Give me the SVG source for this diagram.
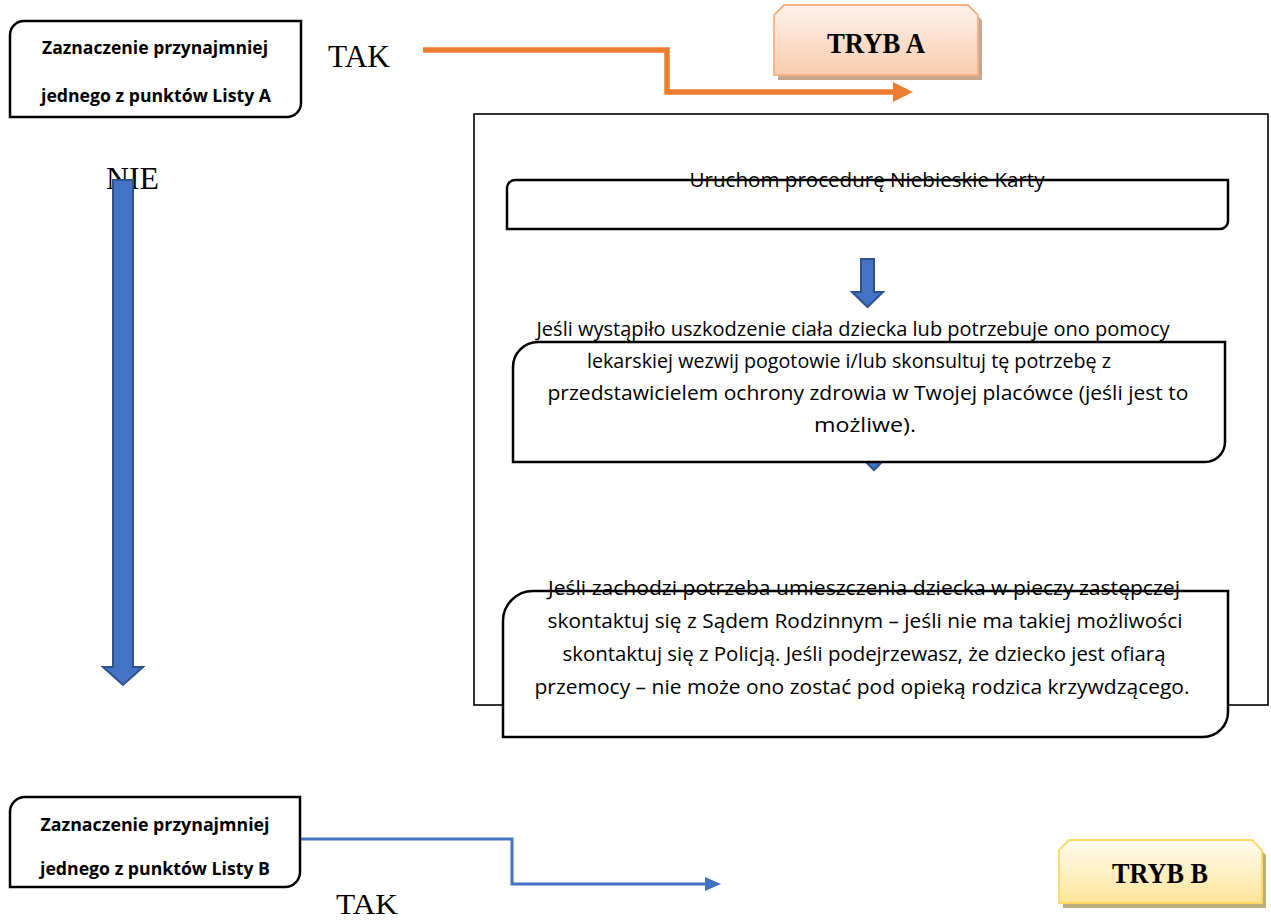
<svg xmlns="http://www.w3.org/2000/svg" width="1271" height="921" viewBox="0 0 1271 921">
<defs>
<linearGradient id="gA" x1="0" y1="0" x2="0" y2="1">
<stop offset="0" stop-color="#FDF1EA"/>
<stop offset="1" stop-color="#F8CDB0"/>
</linearGradient>
<linearGradient id="gB" x1="0" y1="0" x2="0" y2="1">
<stop offset="0" stop-color="#FFFCF2"/>
<stop offset="1" stop-color="#FFE598"/>
</linearGradient>
<style>
.box{fill:#fff;stroke:#000;stroke-width:2.5}
.lbl{font-family:"Open Sans","Liberation Sans",sans-serif;font-weight:bold;font-size:17.5px;fill:#000}
.body{font-family:"Open Sans","Liberation Sans",sans-serif;font-size:20.5px;fill:#000}
.tm{font-family:"Liberation Serif","Times New Roman",serif;font-size:31px;fill:#000}
.tryb{font-family:"Liberation Serif","DejaVu Serif",serif;font-weight:bold;font-size:30px;fill:#000}
.blk{fill:#4472C4;stroke:#2F528F;stroke-width:2}
</style>
</defs>
<rect width="1271" height="921" fill="#fff"/>

<g id="container">
<rect x="474" y="114" width="794" height="591" fill="none" stroke="#000" stroke-width="1.6"/>
</g>

<g id="labels">
<text class="tm" x="328" y="67" textLength="62" lengthAdjust="spacingAndGlyphs">TAK</text>
<text class="tm" x="106" y="189" textLength="53" lengthAdjust="spacingAndGlyphs">NIE</text>
<text class="tm" x="336" y="914" style="font-size:29px" textLength="62" lengthAdjust="spacingAndGlyphs">TAK</text>
</g>

<g id="connectors">
<path d="M423,50 H667 V92 H896" fill="none" stroke="#ED7D31" stroke-width="5.5"/>
<polygon points="893,82 913,92 893,102" fill="#ED7D31"/>
<path d="M301,839 H512 V884 H707" fill="none" stroke="#4472C4" stroke-width="3"/>
<polygon points="705,877 721,884 705,891" fill="#4472C4"/>
<polygon class="blk" points="113,180 133,180 133,667 143,667 123,685 103,667 113,667"/>
<polygon class="blk" points="861,259 874,259 874,292 883,292 867.5,307 852,292 861,292"/>
<polygon class="blk" points="866,390 882,390 882,454 890,454 874,470 858,454 866,454"/>
</g>

<g id="nodeListaA">
<path class="box" d="M10,35 A14,14 0 0 1 24,21 H301 V103 A14,14 0 0 1 287,117 H10 Z"/>
<text class="lbl" x="155" y="54" text-anchor="middle" textLength="226" lengthAdjust="spacingAndGlyphs">Zaznaczenie przynajmniej</text>
<text class="lbl" x="156" y="102" text-anchor="middle" textLength="230" lengthAdjust="spacingAndGlyphs">jednego z punktów Listy A</text>
</g>

<g id="nodeTrybA">
<polygon points="788,10 972,10 982,20 982,80 778,80 778,20" fill="#C9A58C"/>
<polygon points="784,5 968,5 978,15 978,75 774,75 774,15" fill="url(#gA)" stroke="#F4B183" stroke-width="1.8"/>
<text class="tryb" x="876" y="53" text-anchor="middle" textLength="98" lengthAdjust="spacingAndGlyphs">TRYB A</text>
</g>

<g id="nodeKarty">
<path class="box" d="M507,188 A8,8 0 0 1 515,180 H1228 V221 A8,8 0 0 1 1220,229 H507 Z"/>
<text class="body" x="867" y="187" text-anchor="middle" textLength="355" lengthAdjust="spacingAndGlyphs">Uruchom procedurę Niebieskie Karty</text>
</g>

<g id="nodePomoc">
<path class="box" d="M513,367 A25,25 0 0 1 538,342 H1225 V442 A20,20 0 0 1 1205,462 H513 Z"/>
<text class="body" x="853" y="336" text-anchor="middle" textLength="633" lengthAdjust="spacingAndGlyphs">Jeśli wystąpiło uszkodzenie ciała dziecka lub potrzebuje ono pomocy</text>
<text class="body" x="849" y="368" text-anchor="middle" textLength="524" lengthAdjust="spacingAndGlyphs">lekarskiej wezwij pogotowie i/lub skonsultuj tę potrzebę z</text>
<text class="body" x="868" y="400" text-anchor="middle" textLength="641" lengthAdjust="spacingAndGlyphs">przedstawicielem ochrony zdrowia w Twojej placówce (jeśli jest to</text>
<text class="body" x="865" y="432" text-anchor="middle" textLength="102" lengthAdjust="spacingAndGlyphs">możliwe).</text>
</g>

<g id="nodePiecza">
<path class="box" d="M503,621 A30,30 0 0 1 533,591 H1228 V712 A25,25 0 0 1 1203,737 H503 Z"/>
<text class="body" x="864" y="595" text-anchor="middle" textLength="632" lengthAdjust="spacingAndGlyphs">Jeśli zachodzi potrzeba umieszczenia dziecka w pieczy zastępczej</text>
<text class="body" x="865" y="628" text-anchor="middle" textLength="635" lengthAdjust="spacingAndGlyphs">skontaktuj się z Sądem Rodzinnym – jeśli nie ma takiej możliwości</text>
<text class="body" x="864" y="661" text-anchor="middle" textLength="603" lengthAdjust="spacingAndGlyphs">skontaktuj się z Policją. Jeśli podejrzewasz, że dziecko jest ofiarą</text>
<text class="body" x="862" y="694" text-anchor="middle" textLength="655" lengthAdjust="spacingAndGlyphs">przemocy – nie może ono zostać pod opieką rodzica krzywdzącego.</text>
</g>

<g id="nodeListaB">
<path class="box" d="M10,812 A15,15 0 0 1 25,797 H300 V872 A15,15 0 0 1 285,887 H10 Z"/>
<text class="lbl" x="155" y="831" text-anchor="middle" textLength="229" lengthAdjust="spacingAndGlyphs">Zaznaczenie przynajmniej</text>
<text class="lbl" x="155" y="875" text-anchor="middle" textLength="230" lengthAdjust="spacingAndGlyphs">jednego z punktów Listy B</text>
</g>

<g id="nodeTrybB">
<polygon points="1073,845 1256,845 1266,855 1266,908 1063,908 1063,855" fill="#BFAE7C"/>
<polygon points="1069,840 1252,840 1262,850 1262,903 1059,903 1059,850" fill="url(#gB)" stroke="#FFD966" stroke-width="1.8"/>
<text class="tryb" x="1160" y="883" text-anchor="middle" textLength="96" lengthAdjust="spacingAndGlyphs">TRYB B</text>
</g>
</svg>
